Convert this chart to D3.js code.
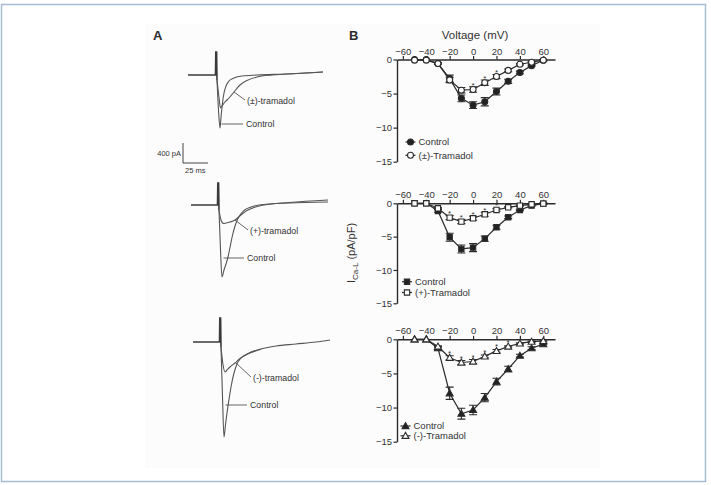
<!DOCTYPE html>
<html><head><meta charset="utf-8">
<script src="https://cdn.jsdelivr.net/npm/d3@7"></script>
<style>
html,body{margin:0;padding:0;background:#fff;}
svg{display:block;font-family:"Liberation Sans",Arial,sans-serif;}
</style></head>
<body>
<svg id="c" width="711" height="485"></svg>
<script>
// ---------- DATA ----------
const voltages = [-50,-40,-30,-20,-10,0,10,20,30,40,50,60];
const xTicks = [-60,-40,-20,0,20,40,60];
const yTicks = [0,-5,-10,-15];

// Plot 1: Control vs (±)-Tramadol
const ctrl1 = [0,0,-0.6,-2.8,-5.7,-6.7,-6.2,-4.7,-3.2,-1.9,-0.9,-0.1];
const ctrl1Err = [0,0,0.1,0.5,0.5,0.5,0.6,0.5,0.3,0.2,0.1,0.1];
const trm1 = [-0.1,-0.1,-0.6,-3.0,-4.5,-4.4,-3.4,-2.5,-1.6,-0.7,-0.4,-0.1];
const trm1Err = [0,0,0.1,0.4,0.4,0.4,0.4,0.3,0.2,0.1,0.1,0.1];
const sig1 = [0,10,20];

// Plot 2: Control vs (+)-Tramadol
const ctrl2 = [0,0,-1.15,-5.1,-6.85,-6.65,-5.3,-3.6,-2.1,-1.0,-0.35,-0.05];
const ctrl2Err = [0,0,0.2,0.6,0.6,0.6,0.4,0.3,0.2,0.1,0.1,0.1];
const trm2 = [0,0,-0.75,-2.15,-2.75,-2.25,-1.65,-1.0,-0.6,-0.35,-0.15,-0.05];
const trm2Err = [0,0,0.1,0.3,0.3,0.3,0.3,0.2,0.1,0.1,0.1,0.1];
const sig2 = [-20,-10,0,10,20];

// Plot 3: Control vs (-)-Tramadol
const ctrl3 = [0,0,-1.3,-7.9,-10.9,-10.35,-8.55,-6.2,-4.35,-2.4,-1.3,-0.7];
const ctrl3Err = [0,0,0.2,0.9,0.8,0.7,0.6,0.5,0.4,0.2,0.2,0.1];
const trm3 = [0,0,-1.05,-2.7,-3.4,-3.25,-2.5,-1.7,-1.05,-0.6,-0.35,-0.25];
const trm3Err = [0,0,0.1,0.3,0.3,0.3,0.2,0.2,0.1,0.1,0.1,0.1];
const sig3 = [-20,-10,0,10,20,30];

const legendLabels = [["Control","(±)-Tramadol"],["Control","(+)-Tramadol"],["Control","(-)-Tramadol"]];

// Panel A current traces: [time (ms), current (pA)]
const traceCtrl1 = [[1,0],[28.5,0],[28.8,460],[29.6,460],[30,-100],[31.5,-700],[33,-1060],[34,-850],[35.5,-560],[37,-360],[39,-220],[42,-120],[47,-60],[55,-20],[70,0],[100,20],[136,60]];
const traceTrm1 = [[30,-100],[32,-450],[33.5,-660],[35,-620],[38,-540],[42,-460],[47,-340],[53,-200],[60,-110],[70,-40],[85,0],[100,20],[136,60]];
const traceCtrl2 = [[2,0],[28.5,0],[28.8,440],[29.6,440],[30,-100],[31.5,-900],[33,-1440],[35,-1300],[37,-1180],[39,-1040],[41,-850],[43,-650],[46,-420],[50,-230],[55,-110],[62,-40],[70,0],[100,40],[139,60]];
const traceTrm2 = [[30,-100],[32,-300],[34.5,-370],[37,-360],[41,-340],[46,-300],[52,-200],[58,-110],[65,-50],[75,0],[100,50],[139,100]];
const traceCtrl3 = [[2,0],[28.5,0],[28.8,480],[29.6,480],[30,-100],[31.5,-1100],[33,-1900],[34.5,-1650],[36,-1420],[38,-1150],[40,-900],[43,-620],[46,-440],[50,-320],[58,-220],[70,-140],[85,-80],[105,-40],[125,0],[139,40]];
const traceTrm3 = [[30,-100],[32,-450],[34,-600],[36,-560],[39,-500],[44,-420],[49,-330],[55,-260],[62,-200],[70,-145]];
const traceLabels = ["(±)-tramadol","(+)-tramadol","(-)-tramadol"];

// ---------- DRAW ----------
const svg = d3.select("#c");
svg.append("rect").attr("x",1.5).attr("y",4.5).attr("width",704).attr("height",477)
  .attr("fill","#fff").attr("stroke","#a9bcd6").attr("stroke-width",1.5);
svg.append("rect").attr("x",145).attr("y",24).attr("width",455).attr("height",444).attr("fill","#fcfcfc");

const ink = "#2b2b2b";

// Panel labels
svg.append("text").attr("x",153).attr("y",40).attr("font-size",13).attr("font-weight","bold").attr("fill",ink).text("A");
svg.append("text").attr("x",349).attr("y",40).attr("font-size",13).attr("font-weight","bold").attr("fill",ink).text("B");

// ---- Panel A traces ----
const traceLayout = [
  {spikeX:217, base:75, ctrl:traceCtrl1, trm:traceTrm1, tAnchor:[47,-340], tLabel:[247,104], cAnchorY:124, cLabel:[246,127]},
  {spikeX:219, base:205, ctrl:traceCtrl2, trm:traceTrm2, tAnchor:[46,-300], tLabel:[250,234], cAnchorY:258, cLabel:[247,261]},
  {spikeX:221, base:342, ctrl:traceCtrl3, trm:traceTrm3, tAnchor:[45,-420], tLabel:[253,381], cAnchorY:405, cLabel:[250,408]}
];
traceLayout.forEach((L,i)=>{
  const tx = d3.scaleLinear().domain([0,140]).range([L.spikeX-30, L.spikeX+110]);
  const ty = d3.scaleLinear().domain([0,-400]).range([L.base, L.base+20]);
  const line = d3.line().x(d=>tx(d[0])).y(d=>ty(d[1])).curve(d3.curveLinear);
  const smooth = d3.line().x(d=>tx(d[0])).y(d=>ty(d[1])).curve(d3.curveMonotoneX);
  const g = svg.append("g");
  g.append("path").attr("d", line(L.ctrl.slice(0,5))).attr("fill","none").attr("stroke","#3a3a3a").attr("stroke-width",1.6);
  g.append("path").attr("d", smooth(L.ctrl.slice(4))).attr("fill","none").attr("stroke","#555").attr("stroke-width",1.1);
  g.append("path").attr("d", smooth(L.trm)).attr("fill","none").attr("stroke","#555").attr("stroke-width",1.1);
  // tramadol label with leader
  const ax = tx(L.tAnchor[0]), ay = ty(L.tAnchor[1]);
  g.append("line").attr("x1",ax).attr("y1",ay).attr("x2",L.tLabel[0]-2).attr("y2",L.tLabel[1]-4).attr("stroke","#555").attr("stroke-width",0.9);
  g.append("text").attr("x",L.tLabel[0]).attr("y",L.tLabel[1]).attr("font-size",8.8).attr("fill","#333").text(traceLabels[i]);
  // control label with leader
  g.append("line").attr("x1",tx(34.5)).attr("y1",L.cAnchorY).attr("x2",L.cLabel[0]-3).attr("y2",L.cAnchorY).attr("stroke","#555").attr("stroke-width",0.9);
  g.append("text").attr("x",L.cLabel[0]).attr("y",L.cLabel[1]).attr("font-size",8.8).attr("fill","#333").text("Control");
});
// scale bar (400 pA, 25 ms)
{
  const sx = d3.scaleLinear().domain([0,25]).range([183,208]);
  const sy = d3.scaleLinear().domain([0,400]).range([163,143]);
  svg.append("path").attr("d",`M${sx(0)},${sy(400)}V${sy(0)}H${sx(25)}`).attr("fill","none").attr("stroke","#444").attr("stroke-width",1);
  svg.append("text").attr("x",181).attr("y",156).attr("text-anchor","end").attr("font-size",7.5).attr("fill","#333").text("400 pA");
  svg.append("text").attr("x",185).attr("y",173).attr("font-size",7.5).attr("fill","#333").text("25 ms");
}

// ---- Panel B plots ----
const plots = [
  {y0:59.5, y15:161.7, ctrl:ctrl1, ce:ctrl1Err, trm:trm1, te:trm1Err, sig:sig1, sym:d3.symbolCircle, size:28, leg:{x:410.5, y:[142,155.3]}},
  {y0:203.3, y15:303.3, ctrl:ctrl2, ce:ctrl2Err, trm:trm2, te:trm2Err, sig:sig2, sym:d3.symbolSquare, size:28, leg:{x:407, y:[281.7,292.5]}},
  {y0:339.3, y15:441.7, ctrl:ctrl3, ce:ctrl3Err, trm:trm3, te:trm3Err, sig:sig3, sym:d3.symbolTriangle, size:21, leg:{x:405.5, y:[426,435.8]}}
];
const x = d3.scaleLinear().domain([-65,70]).range([397,555]);

plots.forEach((P,pi)=>{
  const y = d3.scaleLinear().domain([0,-15]).range([P.y0,P.y15]);
  const g = svg.append("g");
  // axes
  const xa = g.append("g").attr("transform",`translate(0,${y(0)})`)
    .call(d3.axisTop(x).tickValues(xTicks).tickSize(3.5).tickSizeOuter(0).tickPadding(1.5));
  const ya = g.append("g").attr("transform",`translate(${x(-65)},0)`)
    .call(d3.axisLeft(y).tickValues(yTicks).tickSize(3.5).tickSizeOuter(0).tickPadding(1.5));
  [xa,ya].forEach(a=>{
    a.select(".domain").attr("stroke",ink).attr("stroke-width",1.4);
    a.selectAll(".tick line").attr("stroke",ink).attr("stroke-width",1.2);
    a.selectAll(".tick text").attr("font-size",9.5).attr("fill","#333").attr("font-family","Liberation Sans, Arial, sans-serif");
  });

  const lineGen = d3.line().x((d,i)=>x(voltages[i])).y(d=>y(d));
  // control drawn first, tramadol on top
  const series = [{v:P.ctrl, e:P.ce, fill:"#222"},{v:P.trm, e:P.te, fill:"#fff"}];
  const sym = d3.symbol().type(P.sym).size(P.size);
  const dy = P.sym===d3.symbolTriangle?0.6:0;
  series.forEach(S=>{
    g.append("path").attr("d",lineGen(S.v)).attr("fill","none").attr("stroke",ink).attr("stroke-width",1.2);
    S.v.forEach((v,i)=>{
      const e = S.e[i]; if(!e) return;
      const cx = x(voltages[i]);
      const yt = y(v+e), yb = y(v-e);
      g.append("path").attr("d",`M${cx},${yt}V${yb}M${cx-4},${yt}H${cx+4}M${cx-4},${yb}H${cx+4}`)
        .attr("stroke",ink).attr("stroke-width",1.1).attr("fill","none");
    });
    g.selectAll(null).data(S.v).enter().append("path")
      .attr("d",()=>sym()).attr("transform",(d,i)=>`translate(${x(voltages[i])},${y(d)+dy})`)
      .attr("fill",S.fill).attr("stroke",ink).attr("stroke-width",1.1);
  });
  // significance asterisks
  P.sig.forEach(v=>{
    const i = voltages.indexOf(v);
    g.append("text").attr("x",x(v)).attr("y",y(P.trm[i]) - 1.5).attr("text-anchor","middle")
      .attr("font-size",8).attr("fill","#333").text("*");
  });
  // legend
  const L = P.leg;
  const legSeries = [{fill:"#222"},{fill:"#fff"}];
  legSeries.forEach((S,k)=>{
    const ly = L.y[k];
    g.append("line").attr("x1",L.x-5).attr("x2",L.x+5).attr("y1",ly).attr("y2",ly).attr("stroke",ink).attr("stroke-width",1.2);
    g.append("path").attr("d",sym()).attr("transform",`translate(${L.x},${ly+dy})`)
      .attr("fill",S.fill).attr("stroke",ink).attr("stroke-width",1.1);
    g.append("text").attr("x",L.x+8).attr("y",ly+3.4).attr("font-size",9.5).attr("fill","#333").text(legendLabels[pi][k]);
  });
});

// axis titles
svg.append("text").attr("x",475).attr("y",39).attr("text-anchor","middle").attr("font-size",11.5).attr("fill","#333").text("Voltage (mV)");
const yl = svg.append("text").attr("transform","translate(355,253) rotate(-90)").attr("text-anchor","middle").attr("font-size",11).attr("fill","#333");
yl.append("tspan").text("I");
yl.append("tspan").attr("font-size",8).attr("dy",2.5).text("Ca-L");
yl.append("tspan").attr("dy",-2.5).text(" (pA/pF)");
</script>
</body></html>
